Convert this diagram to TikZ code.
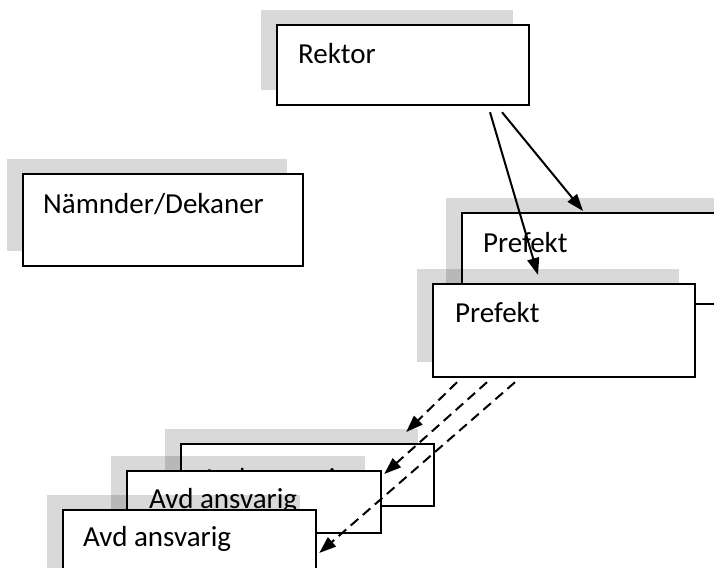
\documentclass[tikz,border=0pt]{standalone}
\usepackage{fontspec}
\setmainfont{Carlito}
\usetikzlibrary{arrows.meta,shadows,calc}
\begin{document}
\begin{tikzpicture}[x=1pt,y=-1pt,
  orgbox/.style={draw, line width=2.2pt, fill=white, rectangle, anchor=north west,
    inner sep=0pt,
    general shadow={fill=black, opacity=0.15, shadow xshift=-16pt, shadow yshift=15pt}},
  boxlabel/.style={anchor=base west, inner sep=0pt, font=\fontsize{29}{35}\selectfont},
  solidarrow/.style={line width=2pt, -{Triangle[length=17pt,width=12pt]}},
  dasharrow/.style={solidarrow, dash pattern=on 10pt off 6pt}]

\useasboundingbox (0,0) rectangle (714,567);
\clip (0,0) rectangle (714,567);
\fill[white] (0,0) rectangle (714,567);

% top level
\node[orgbox, minimum width=252pt, minimum height=80pt] (rektor) at (276,24) {};
\node[boxlabel] (rektortxt) at ($(rektor.north west)+(22,40)$) {Rektor};

\node[orgbox, minimum width=280pt, minimum height=92pt] (namnder) at (22,173) {};
\node[boxlabel] (namndertxt) at ($(namnder.north west)+(21,40)$) {Nämnder/Dekaner};

% stacked department heads
\node[orgbox, minimum width=300pt, minimum height=91pt] (pb) at (461,212) {};
\node[boxlabel] (pbtxt) at ($(pb.north west)+(22,40)$) {Prefekt};

\node[orgbox, minimum width=262pt, minimum height=93pt] (pf) at (432,283) {};
\node[boxlabel] (pftxt) at ($(pf.north west)+(23,39)$) {Prefekt};

% stacked division heads
\node[orgbox, minimum width=253pt, minimum height=62pt] (avdA) at (180,443) {};
\node[boxlabel] (avdAtxt) at ($(avdA.north west)+(21,45)$) {Avd ansvarig};

\node[orgbox, minimum width=254pt, minimum height=62pt] (avdB) at (126,470) {};
\node[boxlabel] (avdBtxt) at ($(avdB.north west)+(23,38)$) {Avd ansvarig};

\node[orgbox, minimum width=253pt, minimum height=80pt] (avdC) at (62,509) {};
\node[boxlabel] (avdCtxt) at ($(avdC.north west)+(21,37)$) {Avd ansvarig};

% solid arrows from Rektor
\coordinate (r1) at ($(rektor.south west)+(214,6)$);
\coordinate (r2) at ($(rektor.south west)+(226,6)$);
\coordinate (t1) at ($(pf.north west)+(106,-8)$);
\coordinate (t2) at ($(pb.north west)+(122,-1)$);
\draw[solidarrow] (r1) -- (t1);
\draw[solidarrow] (r2) -- (t2);

% dashed arrows from Prefekt
\coordinate (s1) at ($(pf.south west)+(25,4)$);
\coordinate (s2) at ($(pf.south west)+(55,4)$);
\coordinate (s3) at ($(pf.south west)+(83,4)$);
\coordinate (e1) at ($(avdA.north east)+(-29,-11)$);
\coordinate (e2) at ($(avdB.north east)+(2,4)$);
\coordinate (e3) at ($(avdC.north east)+(2,44)$);
\draw[dasharrow] (s1) -- (e1);
\draw[dasharrow] (s2) -- (e2);
\draw[dasharrow] (s3) -- (e3);
\end{tikzpicture}
\end{document}
